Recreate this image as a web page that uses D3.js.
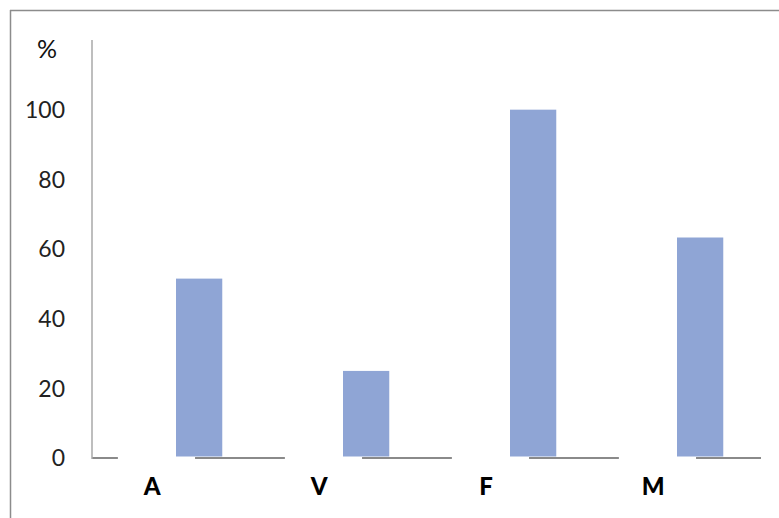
<!DOCTYPE html>
<html><head><meta charset="utf-8">
<script src="https://cdn.jsdelivr.net/npm/d3@7"></script>
<style>
html,body{margin:0;padding:0;background:#fff;}
svg{display:block;}
text{font-family:Lato,"Open Sans",sans-serif;}
</style></head>
<body>
<script>
const categories = ["A", "V", "F", "M"];
const values = [51.5, 25, 100, 63.3];
const yTicks = [0, 20, 40, 60, 80, 100];
const yUnit = "%";

const W = 779, H = 518;
const svg = d3.select("body").append("svg").attr("width", W).attr("height", H);

// outer frame (top and left edges visible)
svg.append("line").attr("x1", 10).attr("x2", W).attr("y1", 10.5).attr("y2", 10.5)
  .attr("stroke", "#8c8c8c").attr("stroke-width", 1.5);
svg.append("line").attr("x1", 10.5).attr("x2", 10.5).attr("y1", 10).attr("y2", H)
  .attr("stroke", "#8c8c8c").attr("stroke-width", 1.5);

const x0 = 92, x1 = 760;
const y = d3.scaleLinear().domain([0, 120]).range([458, 40]);
const x = d3.scaleBand().domain(categories).range([x0, x1]);
const bw = x.bandwidth();

// x axis baseline
svg.append("line").attr("x1", x0).attr("x2", 761).attr("y1", y(0)).attr("y2", y(0))
  .attr("stroke", "#8a8a8a").attr("stroke-width", 2);

// white gaps over the axis (hidden first series)
svg.selectAll("rect.gap").data(categories).enter().append("rect")
  .attr("class", "gap")
  .attr("x", d => x(d) + bw * 0.155)
  .attr("width", bw * 0.462)
  .attr("y", y(0) - 3).attr("height", 6)
  .attr("fill", "#fff");

// y axis
svg.append("line").attr("x1", x0).attr("x2", x0).attr("y1", y(120)).attr("y2", y(0) + 1)
  .attr("stroke", "#a8a8a8").attr("stroke-width", 1.5);

// bars
svg.selectAll("rect.bar").data(values).enter().append("rect")
  .attr("class", "bar")
  .attr("x", (d, i) => x(categories[i]) + bw * 0.503)
  .attr("width", bw * 0.277)
  .attr("y", d => y(d))
  .attr("height", d => y(0) - 1.5 - y(d))
  .attr("fill", "#8fa5d5");

// y tick labels
svg.selectAll("text.ytick").data(yTicks).enter().append("text")
  .attr("class", "ytick")
  .attr("x", 65).attr("y", d => y(d))
  .attr("dy", "0.36em")
  .attr("text-anchor", "end")
  .attr("font-size", 23)
  .attr("fill", "#222")
  .text(d => d);

svg.append("text").attr("x", 47).attr("y", 49).attr("dy", "0.36em")
  .attr("text-anchor", "middle").attr("font-size", 25).attr("fill", "#111")
  .text(yUnit);

// category labels
svg.selectAll("text.cat").data(categories).enter().append("text")
  .attr("class", "cat")
  .attr("x", d => x(d) + bw * 0.36)
  .attr("y", 486).attr("dy", "0.36em")
  .attr("text-anchor", "middle")
  .attr("font-size", 24).attr("font-weight", "900")
  .attr("fill", "#000")
  .text(d => d);
</script>
</body></html>
